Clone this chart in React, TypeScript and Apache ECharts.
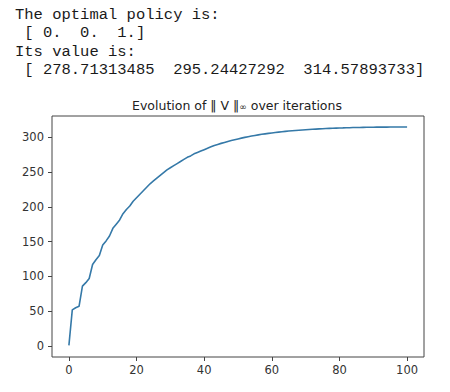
import React, { useEffect, useRef } from "react";
import * as echarts from "echarts";

const outputLines: string[] = [
  "The optimal policy is:",
  " [ 0.  0.  1.]",
  "Its value is:",
  " [ 278.71313485  295.24427292  314.57893733]",
];

const titleHead = "Evolution of \u2016 V \u2016";
const titleSub = "\u221e";
const titleTail = " over iterations";

const iterations: number[] = Array.from({ length: 101 }, (_, i) => i);

const normValues: number[] = [
  1, 52, 55, 57, 86, 91, 97, 117, 124, 130,
  145, 151, 158, 169, 175, 181, 190, 196, 201, 208,
  213, 218, 223, 228, 233, 237, 241, 245, 249, 253,
  256, 259, 262, 265, 268, 271, 273, 276, 278, 280,
  282, 284, 286, 288, 289.5, 291, 292.4, 293.8, 295, 296.2,
  297.4, 298.5, 299.6, 300.6, 301.5, 302.4, 303.2, 304.0, 304.7, 305.4,
  306.0, 306.6, 307.2, 307.7, 308.2, 308.7, 309.1, 309.5, 309.9, 310.3,
  310.6, 310.9, 311.2, 311.5, 311.8, 312.0, 312.3, 312.5, 312.7, 312.9,
  313.1, 313.2, 313.4, 313.5, 313.7, 313.8, 313.9, 314.0, 314.1, 314.2,
  314.2, 314.3, 314.3, 314.4, 314.4, 314.5, 314.5, 314.5, 314.5, 314.6,
  314.6,
];

const xTicks: number[] = [0, 20, 40, 60, 80, 100];
const yTicks: number[] = [0, 50, 100, 150, 200, 250, 300];

export default function App() {
  const ref = useRef<HTMLDivElement>(null);
  useEffect(() => {
    if (!ref.current) return;
    const chart = echarts.init(ref.current, null, { renderer: "svg" });
    const axisColor = "#444";
    const labelColor = "#333";
    chart.setOption({
      animation: false,
      backgroundColor: "#fff",
      grid: {
        left: 52,
        top: 116,
        width: 372,
        height: 241,
        show: true,
        borderColor: axisColor,
        borderWidth: 1,
        backgroundColor: "transparent",
      },
      graphic: [
        ...outputLines.map((t, i) => ({
          type: "text",
          x: 15,
          y: 15 + i * 18.4,
          style: {
            text: t,
            fill: "#1a1a1a",
            font: "15.5px 'Liberation Mono', 'DejaVu Sans Mono', monospace",
            textVerticalAlign: "middle",
          },
        })),
        {
          type: "text",
          x: 237,
          y: 105,
          style: {
            text: "{a|" + titleHead + "}{s|" + titleSub + "}{a|" + titleTail + "}",
            fill: "#222",
            textAlign: "center",
            textVerticalAlign: "middle",
            rich: {
              a: { fontSize: 12.5, fontFamily: "DejaVu Sans", fill: "#222", color: "#222" },
              s: { fontSize: 9, fontFamily: "DejaVu Sans", fill: "#222", color: "#222", padding: [4, 0, 0, 0] },
            },
          },
        },
      ],
      xAxis: {
        type: "value",
        min: -5,
        max: 105,
        splitLine: { show: false },
        axisLine: { show: false, onZero: false },
        axisTick: {
          show: true,
          inside: false,
          length: 4,
          customValues: xTicks,
          lineStyle: { color: axisColor },
        },
        axisLabel: {
          customValues: xTicks,
          color: labelColor,
          fontSize: 11.5,
          fontFamily: "DejaVu Sans",
          margin: 7,
        },
      },
      yAxis: {
        type: "value",
        min: -15.73,
        max: 330.31,
        splitLine: { show: false },
        axisLine: { show: false, onZero: false },
        axisTick: {
          show: true,
          inside: false,
          length: 4,
          customValues: yTicks,
          lineStyle: { color: axisColor },
        },
        axisLabel: {
          customValues: yTicks,
          color: labelColor,
          fontSize: 11.5,
          fontFamily: "DejaVu Sans",
          margin: 8,
        },
      },
      series: [
        {
          type: "line",
          data: iterations.map((x, i) => [x, normValues[i]]),
          showSymbol: false,
          symbol: "none",
          lineStyle: { color: "#3579a8", width: 1.6 },
        },
      ],
    });
    return () => chart.dispose();
  }, []);
  return (
    <div
      ref={ref}
      style={{ position: "fixed", left: 0, top: 0, width: 450, height: 392 }}
    />
  );
}
